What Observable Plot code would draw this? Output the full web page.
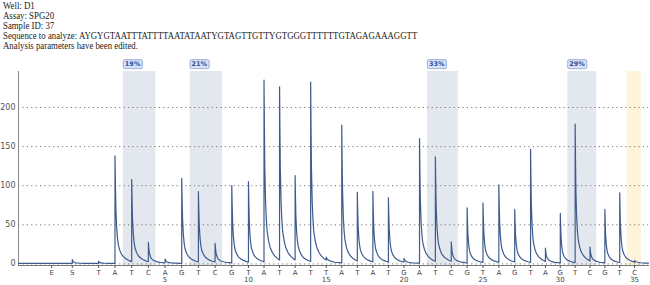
<!DOCTYPE html>
<html>
<head>
<meta charset="utf-8">
<script src="https://cdn.jsdelivr.net/npm/d3@7"></script>
<script src="https://cdn.jsdelivr.net/npm/@observablehq/plot@0.6"></script>
<style>
  html, body { margin: 0; padding: 0; background: #fff; }
  #wrap { width: 650px; height: 285px; overflow: hidden; }
  #header { height: 52px; padding-left: 3px; font-family: "Liberation Serif", serif; font-size: 9.5px; line-height: 10px; color: #222; box-sizing: border-box; padding-top: 1px; }
  #header div { white-space: nowrap; transform: scaleX(0.925); transform-origin: 0 0; }
  svg { display: block; }
</style>
</head>
<body>
<div id="wrap">
  <div id="header"></div>
  <div id="chart"></div>
</div>
<script>
// ---- header text ----
const headerLines = [
  "Well: D1",
  "Assay: SPG20",
  "Sample ID: 37",
  "Sequence to analyze: AYGYGTAATTTATTTTAATATAATYGTAGTTGTTYGTGGGTTTTTTGTAGAGAAAGGTT",
  "Analysis parameters have been edited."
];

// ---- dispensation order (positions 1..35) ----
const dispLetters = ["T","A","T","C","A","G","T","C","G","T","A","T","A","T","T","A","T","A","T","G","A","T","C","G","T","A","G","T","A","G","T","C","G","T","C"];
// peak heights
const peakHeights = [3,139,106,25,5,110,91,24,100,104,235,224,109,232,4,178,89,91,83,5,161,135,25,71,77,100,68,146,17,64,179,18,69,90,2];

// enzyme / substrate dispensations before position 1
const preLetters = ["E","S"];
const prePositions = [-1.87, -0.61];
const preHeights = [0, 5];

const numberTicks = [5,10,15,20,25,30,35];
const yTicks = [0,50,100,150,200];

// run time (arbitrary units) at which some dispensations occur
// (the run's dispensation spacing is not perfectly even)
const timeAnchorPos  = [-3.9, 2, 10, 21, 28, 35, 35.9];
const timeAnchorTime = [1.13, 7.16, 15.5, 26.19, 33.13, 39.63, 40.5];

// analysed variable positions (first / last dispensation), their labels
const regionFirst = [3, 7, 22, 31, 35];
const regionLast  = [4, 8, 23, 32, 35];
const regionLabels = ["19%", "21%", "33%", "29%", ""];
const regionKind = ["cpg","cpg","cpg","cpg","control"];

// peak shape (fraction of peak height vs. offset in dispensation steps)
const shapeT = [0, 0.02, 0.05, 0.1, 0.15, 0.2, 0.3, 0.4, 0.55, 0.7, 0.85, 1.0, 1.5, 2.5];
const shapeF = [1, 0.78, 0.52, 0.33, 0.23, 0.17, 0.115, 0.082, 0.055, 0.038, 0.026, 0.017, 0.006, 0];

// ---- build tables ----
const header = document.getElementById("header");
headerLines.forEach(t => { const d = document.createElement("div"); d.textContent = t; header.appendChild(d); });

const dispPos = dispLetters.map((_, i) => i + 1);
const peaks = prePositions.map((p, i) => ({pos: p, h: preHeights[i]}))
  .concat(dispPos.map((p, i) => ({pos: p, h: peakHeights[i]})));

function shape(t) {
  if (t <= 0) return 0;
  for (let k = 1; k < shapeT.length; k++) {
    if (t <= shapeT[k]) {
      const a = (t - shapeT[k-1]) / (shapeT[k] - shapeT[k-1]);
      return shapeF[k-1] + a * (shapeF[k] - shapeF[k-1]);
    }
  }
  return 0;
}
const baseline = 0.6;
const xStart = timeAnchorPos[0], xEnd = timeAnchorPos[timeAnchorPos.length - 1];
const xs = [xStart];
peaks.forEach((pk, i) => {
  const next = i + 1 < peaks.length ? peaks[i+1].pos : xEnd;
  xs.push(pk.pos, pk.pos + 0.001);
  shapeT.slice(1).forEach(t => { if (pk.pos + t < next) xs.push(pk.pos + t); });
});
xs.push(xEnd);
const trace = xs.map(x => ({x, y: baseline + d3.sum(peaks, pk => pk.h * shape(x - pk.pos))}));

const regions = regionFirst.map((f, i) => ({x1: f - 0.5, x2: regionLast[i] + 0.45, label: regionLabels[i], kind: regionKind[i]}));

const tickLetter = new Map();
prePositions.forEach((p, i) => tickLetter.set(p, preLetters[i]));
dispPos.forEach((p, i) => tickLetter.set(p, dispLetters[i]));
const letterTicks = prePositions.concat(dispPos);

// dispensation position -> run time
const toTime = d3.scaleLinear().domain(timeAnchorPos).range(timeAnchorTime);

const chart = Plot.plot({
  width: 650,
  height: 233,
  marginLeft: 18,
  marginRight: 2,
  marginTop: 19,
  marginBottom: 20,
  style: {fontFamily: "DejaVu Sans, sans-serif", fontSize: "8px", color: "#555", background: "#fff"},
  x: {transform: toTime, domain: [timeAnchorTime[0], timeAnchorTime[timeAnchorTime.length - 1]], label: null},
  y: {domain: [-2, 246], label: null},
  marks: [
    Plot.rectX(regions, {x1: "x1", x2: "x2", fill: d => d.kind === "control" ? "#fdf4d9" : "#e3e8ef"}),
    Plot.gridY(yTicks, {stroke: "#777", strokeOpacity: 1, strokeDasharray: "1.2,3.2", strokeWidth: 1}),
    Plot.frame({anchor: "left", stroke: "#888"}),
    Plot.frame({anchor: "bottom", stroke: "#777"}),
    Plot.axisY(yTicks, {tickSize: 0, tickPadding: 3, label: null, fill: "#555"}),
    Plot.axisX(letterTicks, {tickSize: 3, tickPadding: 1.5, fontSize: 7, tickFormat: d => tickLetter.get(d), label: null, stroke: "#555", fill: "#444"}),
    Plot.axisX(numberTicks, {tickSize: 0, tickPadding: 12, fontSize: 7, label: null, fill: "#444"}),
    Plot.line(trace, {x: "x", y: "y", stroke: "#3e5b8c", strokeWidth: 1.2, curve: "linear"}),
    Plot.text(regions.filter(d => d.label), {x: "x1", text: "label", frameAnchor: "top", textAnchor: "start", dx: 1.5, dy: -10, fill: "#2a4f9f", fontSize: 6.5, fontWeight: "bold", className: "pct-label"})
  ]
});
document.getElementById("chart").appendChild(chart);

// background boxes behind percentage labels
d3.select(chart).selectAll(".pct-label text").each(function() {
  const b = this.getBBox();
  d3.select(this.parentNode).insert("rect", () => this)
    .attr("x", b.x - 1.5).attr("y", b.y - 0.5)
    .attr("width", b.width + 3).attr("height", b.height + 1)
    .attr("rx", 1.5)
    .attr("fill", "#d9e3f4").attr("stroke", "#86a0d2").attr("stroke-width", 0.8)
    .attr("transform", this.getAttribute("transform"));
});
</script>
</body>
</html>
